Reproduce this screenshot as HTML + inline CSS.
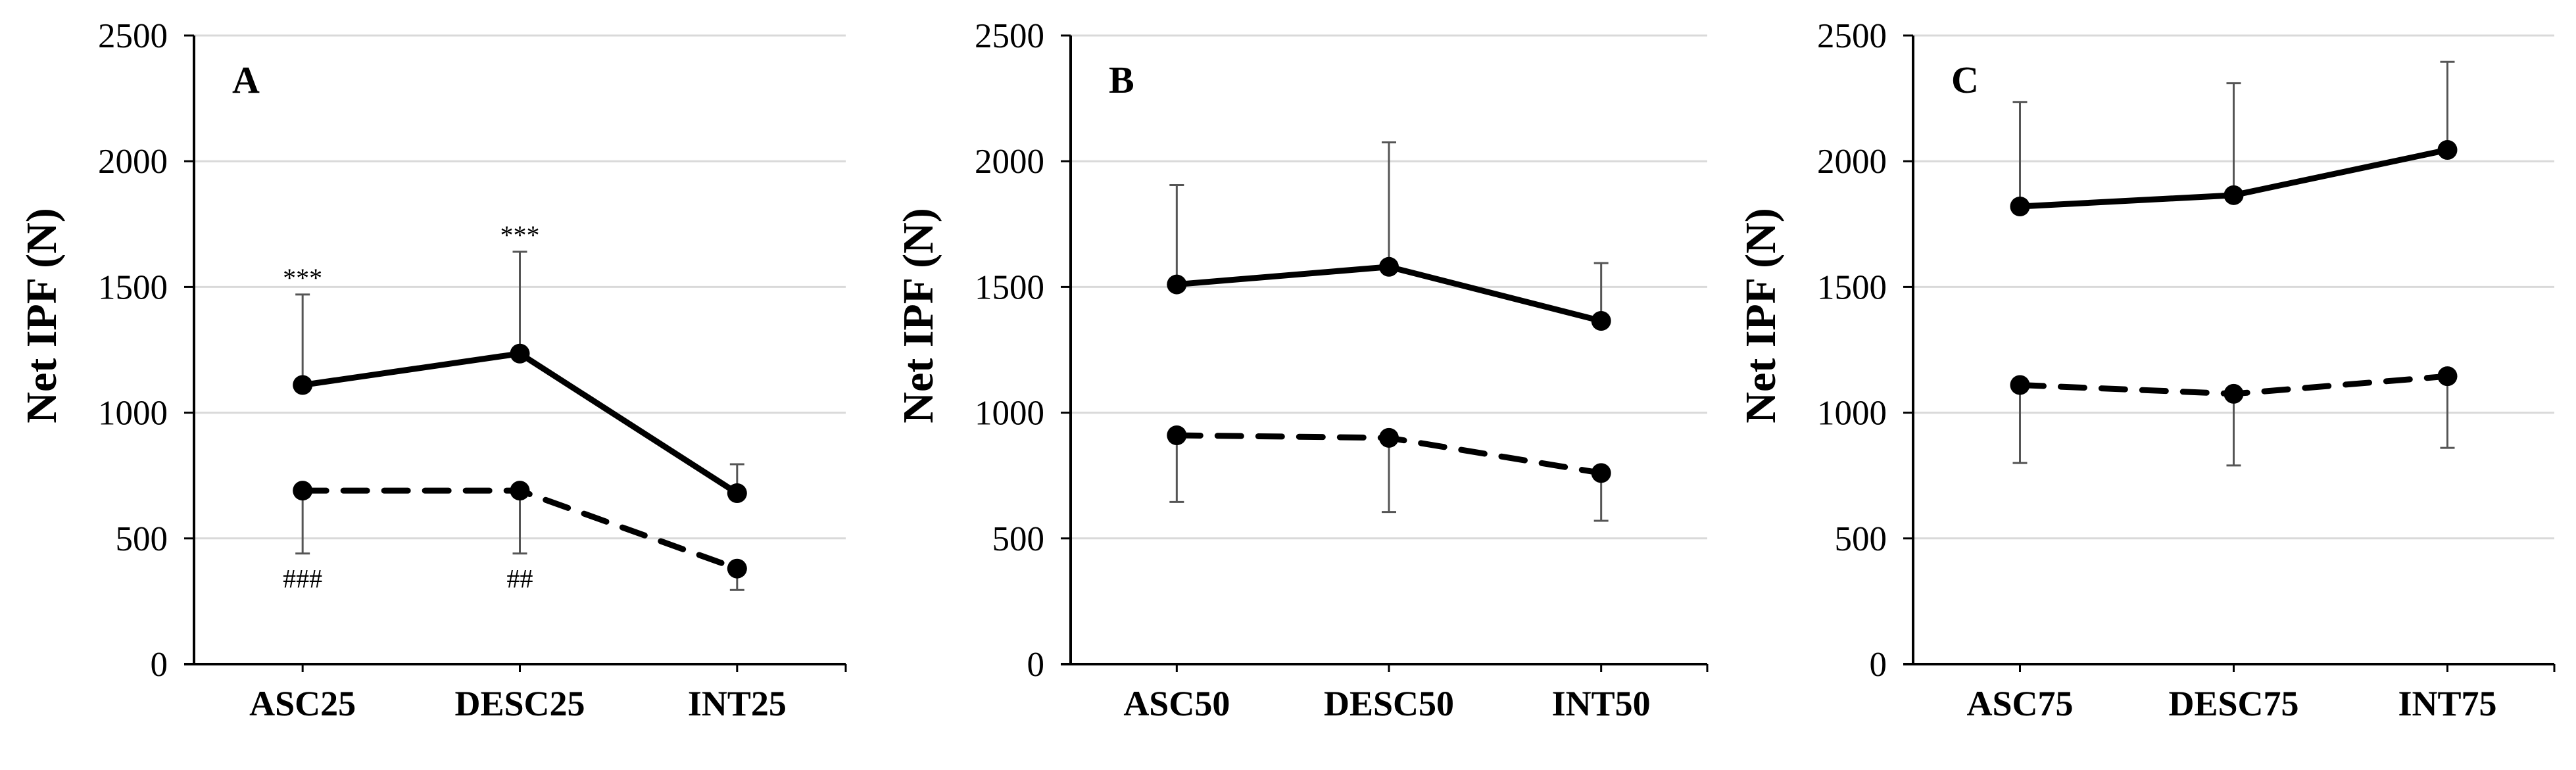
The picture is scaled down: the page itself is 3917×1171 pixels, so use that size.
<!DOCTYPE html>
<html><head><meta charset="utf-8"><style>
html,body{margin:0;padding:0;background:#fff;overflow:hidden}
svg{display:block}
text{font-family:"Liberation Serif",serif;fill:#000}
</style></head><body>
<svg id="chart" width="3917" height="1171" viewBox="0 0 3917 1171" xmlns="http://www.w3.org/2000/svg"></svg>
<script>
const yTicks = [0, 500, 1000, 1500, 2000, 2500];
const panelLetters = ["A", "B", "C"];
const catsA = ["ASC25", "DESC25", "INT25"];
const catsB = ["ASC50", "DESC50", "INT50"];
const catsC = ["ASC75", "DESC75", "INT75"];
const solidA = [1110, 1235, 680];
const solidUpA = [1470, 1640, 795];
const dashA = [690, 690, 380];
const dashDownA = [440, 440, 295];
const solidB = [1510, 1580, 1365];
const solidUpB = [1905, 2075, 1595];
const dashB = [910, 900, 760];
const dashDownB = [645, 605, 570];
const solidC = [1820, 1865, 2045];
const solidUpC = [2235, 2310, 2395];
const dashC = [1110, 1075, 1145];
const dashDownC = [800, 790, 860];
const topMarksA = ["***", "***", ""];
const bottomMarksA = ["###", "##", ""];

const NS = "http://www.w3.org/2000/svg";
const svg = document.getElementById("chart");
function mk(tag, attrs, parent) {
  const e = document.createElementNS(NS, tag);
  for (const k in attrs) e.setAttribute(k, attrs[k]);
  (parent || svg).appendChild(e);
  return e;
}
const Y0 = 1010, Y1 = 54, YMAX = 2500;
function yS(v) { return Y0 - (v / YMAX) * (Y0 - Y1); }

const layouts = [
  {left: 295, right: 1286},
  {left: 1628, right: 2596},
  {left: 2909, right: 3884}
];
const panels = [
  {cats: catsA, solid: solidA, up: solidUpA, dash: dashA, down: dashDownA, top: topMarksA, bot: bottomMarksA},
  {cats: catsB, solid: solidB, up: solidUpB, dash: dashB, down: dashDownB, top: null, bot: null},
  {cats: catsC, solid: solidC, up: solidUpC, dash: dashC, down: dashDownC, top: null, bot: null}
];

panels.forEach((p, pi) => {
  const L = layouts[pi];
  const g = mk("g", {});
  
  
  const band = (L.right - L.left) / p.cats.length;
  const xS = i => L.left + band * (i + 0.5);

  yTicks.forEach(t => {
    if (t > 0) {
      const gl = mk("line", {x1: L.left, x2: L.right, y1: yS(t), y2: yS(t), stroke: "#d9d9d9", "stroke-width": 3}, g);
      
      
    }
    const tk = mk("line", {x1: L.left - 15, x2: L.left, y1: yS(t), y2: yS(t), stroke: "#000", "stroke-width": 3}, g);
    
    
    const tl = mk("text", {x: L.left - 40, y: yS(t) + 18, "text-anchor": "end", "font-size": 53}, g);
    tl.textContent = t;
    
    
  });

  const ya = mk("line", {x1: L.left, x2: L.left, y1: Y1, y2: Y0, stroke: "#000", "stroke-width": 4}, g);
  
  
  const xa = mk("line", {x1: L.left - 15, x2: L.right, y1: Y0, y2: Y0, stroke: "#000", "stroke-width": 4}, g);
  
  
  const et = mk("line", {x1: L.right, x2: L.right, y1: Y0, y2: Y0 + 12, stroke: "#000", "stroke-width": 3}, g);
  
  
  p.cats.forEach((c, i) => {
    const ct = mk("line", {x1: xS(i), x2: xS(i), y1: Y0, y2: Y0 + 12, stroke: "#000", "stroke-width": 3}, g);
    
    
    const xl = mk("text", {x: xS(i), y: 1088, "text-anchor": "middle", "font-size": 54, "font-weight": "bold"}, g);
    xl.textContent = c;
    
    
  });

  const yt = mk("text", {x: 0, y: 0, "text-anchor": "middle", "font-size": 66, "font-weight": "bold", transform: `translate(${L.left - 210},480) rotate(-90)`}, g);
  yt.textContent = "Net IPF (N)";
  
  

  const pl = mk("text", {x: L.left + 58, y: 141, "font-size": 58, "font-weight": "bold"}, g);
  pl.textContent = panelLetters[pi];
  
  

  p.cats.forEach((c, i) => {
    const x = xS(i);
    const e1 = mk("path", {d: `M${x},${yS(p.solid[i])}V${yS(p.up[i])}M${x - 11},${yS(p.up[i])}H${x + 11}`, stroke: "#555", "stroke-width": 3, fill: "none"}, g);
    
    
    const e2 = mk("path", {d: `M${x},${yS(p.dash[i])}V${yS(p.down[i])}M${x - 11},${yS(p.down[i])}H${x + 11}`, stroke: "#555", "stroke-width": 3, fill: "none"}, g);
    
    
  });

  const sp = p.solid.map((v, i) => `${xS(i)},${yS(v)}`).join(" ");
  const sl = mk("polyline", {points: sp, fill: "none", stroke: "#000", "stroke-width": 9, "stroke-linejoin": "round"}, g);
  
  
  const dp = p.dash.map((v, i) => `${xS(i)},${yS(v)}`).join(" ");
  const dl = mk("polyline", {points: dp, fill: "none", stroke: "#000", "stroke-width": 9, "stroke-dasharray": "36,26", "stroke-linecap": "round"}, g);
  
  

  p.cats.forEach((c, i) => {
    const m1 = mk("circle", {cx: xS(i), cy: yS(p.solid[i]), r: 15, fill: "#000"}, g);
    
    
    const m2 = mk("circle", {cx: xS(i), cy: yS(p.dash[i]), r: 15, fill: "#000"}, g);
    
    
    if (p.top && p.top[i]) {
      const a = mk("text", {x: xS(i), y: yS(p.up[i]) - 12, "text-anchor": "middle", "font-size": 40}, g);
      a.textContent = p.top[i];
      
      
    }
    if (p.bot && p.bot[i]) {
      const b = mk("text", {x: xS(i), y: yS(p.down[i]) + 52, "text-anchor": "middle", "font-size": 40}, g);
      b.textContent = p.bot[i];
      
      
    }
  });
});
</script>
</body></html>
